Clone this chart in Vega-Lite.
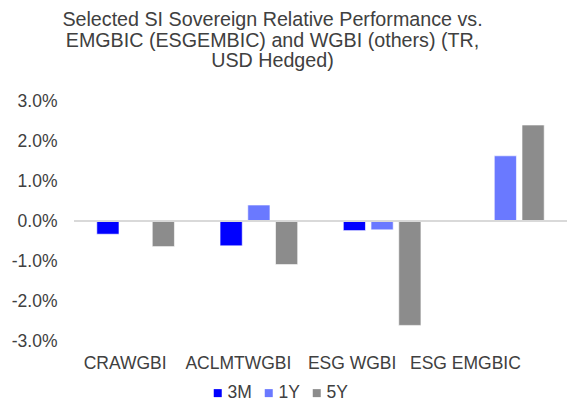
{
  "$schema": "https://vega.github.io/schema/vega-lite/v6.json",
  "autosize": "none",
  "width": 493,
  "height": 240,
  "padding": {"left": 74, "top": 101, "right": 0, "bottom": 64},
  "background": "#ffffff",
  "title": {
    "text": ["Selected SI Sovereign Relative Performance vs.", "EMGBIC (ESGEMBIC) and WGBI (others) (TR,", "USD Hedged)"],
    "fontSize": 19.7,
    "font": "Liberation Sans",
    "fontWeight": "normal",
    "color": "#404040",
    "lineHeight": 20.5,
    "anchor": "middle",
    "frame": "group",
    "dx": -48,
    "offset": 21
  },
  "data": {
    "values": [
      {"index": "CRAWGBI", "period": "3M", "value": -0.33},
      {"index": "CRAWGBI", "period": "1Y", "value": -0.02},
      {"index": "CRAWGBI", "period": "5Y", "value": -0.64},
      {"index": "ACLMTWGBI", "period": "3M", "value": -0.62},
      {"index": "ACLMTWGBI", "period": "1Y", "value": 0.4},
      {"index": "ACLMTWGBI", "period": "5Y", "value": -1.09},
      {"index": "ESG WGBI", "period": "3M", "value": -0.24},
      {"index": "ESG WGBI", "period": "1Y", "value": -0.22},
      {"index": "ESG WGBI", "period": "5Y", "value": -2.61},
      {"index": "ESG EMGBIC", "period": "3M", "value": -0.02},
      {"index": "ESG EMGBIC", "period": "1Y", "value": 1.63},
      {"index": "ESG EMGBIC", "period": "5Y", "value": 2.4}
    ]
  },
  "encoding": {
    "y": {
      "field": "value",
      "type": "quantitative",
      "scale": {"domain": [-3, 3], "nice": false},
      "axis": {
        "title": null,
        "values": [-3, -2, -1, 0, 1, 2, 3],
        "labelExpr": "(datum.value < 0 ? '-' : '') + format(abs(datum.value), '.1f') + '%'",
        "labelOverlap": false,
        "labelFlush": false,
        "domain": false,
        "ticks": false,
        "grid": false,
        "labelPadding": 17,
        "labelFontSize": 17.5,
        "labelFont": "Liberation Sans",
        "labelColor": "#404040"
      }
    }
  },
  "layer": [
    {
      "mark": {"type": "bar", "stroke": "#ffffff", "strokeOpacity": 0.6, "strokeWidth": 1},
      "encoding": {
        "x": {
          "field": "index",
          "type": "nominal",
          "sort": ["CRAWGBI", "ACLMTWGBI", "ESG WGBI", "ESG EMGBIC"],
          "scale": {"paddingInner": 0.37, "paddingOuter": 0.185},
          "axis": {
            "title": null,
            "labelAngle": 0,
            "domain": false,
            "ticks": false,
            "labelPadding": 13,
            "labelFontSize": 17.5,
            "labelFont": "Liberation Sans",
            "labelColor": "#404040",
            "labelOverlap": false,
            "labelOffset": {
              "condition": [
                {"test": "datum.value === 'CRAWGBI'", "value": -10.5},
                {"test": "datum.value === 'ACLMTWGBI'", "value": -20.5},
                {"test": "datum.value === 'ESG WGBI'", "value": -30}
              ],
              "value": -40
            }
          }
        },
        "xOffset": {
          "field": "period",
          "type": "nominal",
          "sort": ["3M", "1Y", "5Y"],
          "scale": {"paddingInner": 0.2, "paddingOuter": 0}
        },
        "color": {
          "field": "period",
          "type": "nominal",
          "sort": ["3M", "1Y", "5Y"],
          "scale": {"domain": ["3M", "1Y", "5Y"], "range": ["#0000FF", "#6A79FF", "#8C8C8C"]},
          "legend": {
            "title": null,
            "orient": "none",
            "legendX": 135,
            "legendY": 283,
            "direction": "horizontal",
            "symbolType": "square",
            "symbolSize": 64,
            "symbolStrokeWidth": 0,
            "labelFontSize": 17.5,
            "labelFont": "Liberation Sans",
            "labelColor": "#404040",
            "columnPadding": 8,
            "labelOffset": 1
          }
        }
      }
    },
    {
      "mark": {"type": "rule", "color": "#D9D9D9", "strokeWidth": 2},
      "encoding": {"y": {"datum": 0}}
    }
  ],
  "config": {"view": {"stroke": null}, "axisY": {"labelOverlap": false}}
}
